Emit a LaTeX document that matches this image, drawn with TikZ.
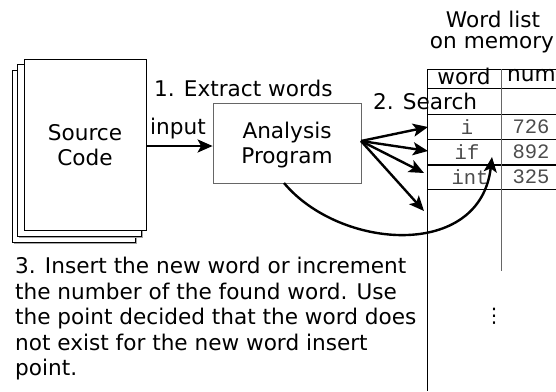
\documentclass[tikz,border=0pt]{standalone}
\usepackage{fontspec}
\setmainfont{DejaVu Sans}
\newfontfamily\monof{Liberation Mono}
\usetikzlibrary{arrows.meta}
\begin{document}
\begin{tikzpicture}[x=1pt,y=-1pt,
  txt/.style={inner sep=0pt,font=\fontsize{21.6}{25.5}\selectfont,align=center},
  mono/.style={inner sep=0pt,text=black!70,font=\monof\fontsize{20.5}{24}\selectfont},
  page/.style={draw=black,fill=white,line width=0.9pt},
  shadow/.style={draw=gray!70,line width=0.9pt},
  tline/.style={line width=0.9pt},
  arr/.style={line width=2.4pt,-{Stealth[length=15pt,width=13pt,inset=3.5pt]}}]
\useasboundingbox (0,0) rectangle (556,391);
% source code pages
\draw[page] (12,70) rectangle (135,242);
\draw[shadow] (136,72) -- (136,243) -- (14,243);
\draw[page] (17,64) rectangle (141,236);
\draw[shadow] (142,66) -- (142,237) -- (19,237);
\node[page,minimum width=122pt,minimum height=171pt,inner sep=0pt] (src) at (85,144.5) {};
\node[txt] (srct) at (85,145) {Source\\Code};
% analysis program
\node[draw=gray!80!black,line width=0.8pt,minimum width=148pt,minimum height=80pt,inner sep=0pt] (ap) at (287,143) {};
\node[txt] (apt) at (287,145) {Analysis\\Program};
% labels
\node[txt,anchor=west] (ext) at (154,88) {1. Extract words};
\node[txt,anchor=west] (inp) at (150,129) {input};
\node[txt] (wl1) at (493,19) {Word list};
\node[txt] (wl2) at (492,45) {on memory};
% table
\draw[tline] (556,69) -- (427,69) -- (427,391);
\draw[tline] (427,88) -- (556,88);
\draw[tline] (427,114) -- (556,114);
\draw[tline] (427,139) -- (556,139);
\draw[line width=2pt] (427,165) -- (556,165);
\draw[tline] (427,189) -- (556,189);
\draw[line width=1pt,draw=gray!80!black] (501,69) -- (501,271);
\node[txt] (hw) at (464,76) {word};
\node[txt,anchor=west] (hn) at (507,76) {num};
\node[txt,anchor=west] (srch) at (373,101) {2. Search};
\node[mono] (w1) at (467,127) {i};
\node[mono] (w2) at (467,152) {if};
\node[mono] (w3) at (470,177) {int};
\node[mono] (n1) at (531,127) {726};
\node[mono] (n2) at (531,152) {892};
\node[mono] (n3) at (531,177) {325};
\node[txt] (dots) at (494,316) {\fontsize{20}{20}\selectfont ⋮};
% caption
\node[txt,anchor=north west,align=left] (cap) at (15,257) {3. Insert the new word or increment\\the number of the found word. Use\\the point decided that the word does\\not exist for the new word insert\\point.};
% connectors
\coordinate (o) at (361,141);
\coordinate (t1) at (428,127);
\coordinate (t2) at (428,151);
\coordinate (t3) at (424,173);
\coordinate (t4) at (424,211);
\coordinate (ins) at (492,157);
\coordinate (apb) at (284,183);
\draw[arr] (src.east |- 0,146) -- (ap.west |- 0,146);
\draw[arr] (o) -- (t1);
\draw[arr] (o) -- (t2);
\draw[arr] (o) -- (t3);
\draw[arr] (o) -- (t4);
\draw[arr] (apb) .. controls (340,250) and (480,260) .. (ins);
\end{tikzpicture}
\end{document}
